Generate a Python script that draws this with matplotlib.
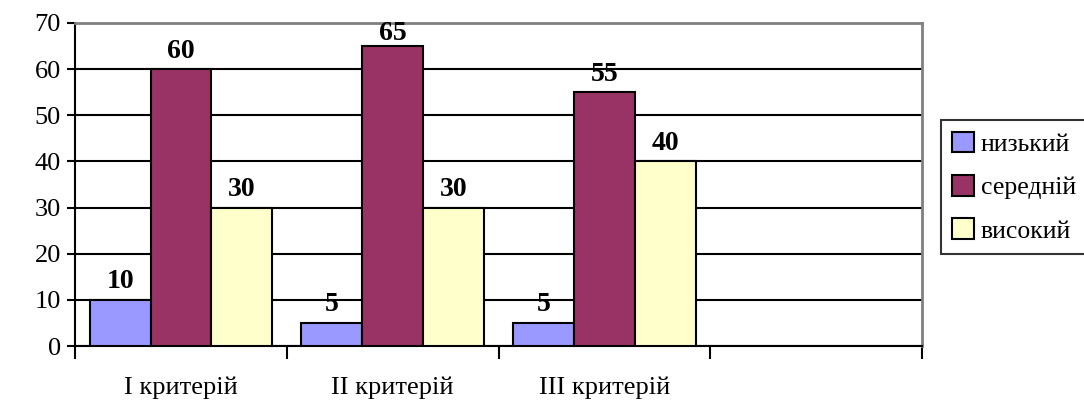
import matplotlib.pyplot as plt
import numpy as np

# ─────────────────────────────────────────────
# DATA
# ─────────────────────────────────────────────
criteria = ["I критерій", "II критерій", "III критерій"]
levels   = ["низький", "середній", "високий"]
low      = [10, 5, 5]
mid      = [60, 65, 55]
high     = [30, 30, 40]
y_ticks  = [0, 10, 20, 30, 40, 50, 60, 70]

colors = ["#9999FF", "#993366", "#FFFFCC"]
n_slots = 4          # chart keeps an empty fourth slot on the right
bar_w = 0.287
y_max = 70

plt.rcParams['font.family'] = ['Liberation Serif', 'DejaVu Serif']

fig = plt.figure(figsize=(10.84, 4.03), dpi=100)
ax = fig.add_axes([0.0692, 0.1414, 0.7814, 0.8016])

x = np.arange(len(criteria))
for i, (vals, lab) in enumerate(zip([low, mid, high], levels)):
    pos = x + (i - 1) * bar_w
    bars = ax.bar(pos, vals, width=bar_w, color=colors[i], edgecolor="black",
                  linewidth=1.5, label=lab, zorder=3)
    for b, v in zip(bars, vals):
        # labels near the top get squeezed down, as in the original
        off = 0 if v > y_max - 8 else 4
        ax.annotate(str(v), (b.get_x() + b.get_width() / 2, v),
                    xytext=(0, off), textcoords="offset points",
                    ha="center", va="bottom", fontsize=20, fontweight="bold")

ax.set_xlim(-0.5, n_slots - 0.5)
ax.set_ylim(0, y_max)
ax.set_yticks(y_ticks)
ax.tick_params(axis="y", labelsize=19, length=6, width=1.5, direction="out", pad=4)

# boundary ticks (major) and category labels (minor)
ax.set_xticks(np.arange(n_slots + 1) - 0.5)
ax.set_xticklabels([])
ax.tick_params(axis="x", which="major", length=9, width=1.5, direction="out")
ax.set_xticks(x, minor=True)
ax.set_xticklabels(criteria, minor=True)
ax.tick_params(axis="x", which="minor", length=0, labelsize=19, pad=22)

ax.set_axisbelow(True)
ax.yaxis.grid(True, color="black", linewidth=1.5)
for s in ["left", "bottom"]:
    ax.spines[s].set_linewidth(1.5)
    ax.spines[s].set_color("black")
for s in ["top", "right"]:
    ax.spines[s].set_linewidth(2)
    ax.spines[s].set_color("#808080")

leg = fig.legend(loc="upper left", bbox_to_anchor=(0.868, 0.702), fontsize=18.5,
                 frameon=True, fancybox=False, edgecolor="black",
                 handlelength=0.85, handleheight=0.85, handletextpad=0.25,
                 borderpad=0.45, borderaxespad=0, labelspacing=0.75)
leg.get_frame().set_linewidth(1.5)

fig.savefig("out.png", dpi=100)
